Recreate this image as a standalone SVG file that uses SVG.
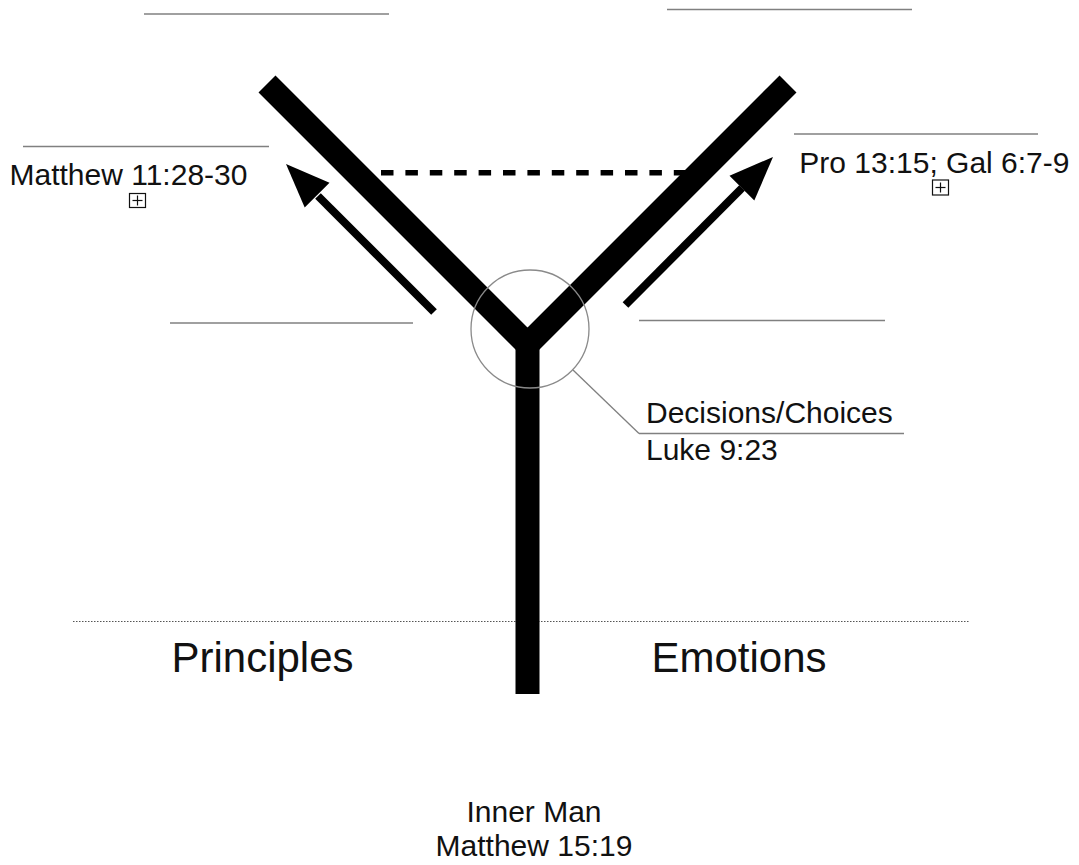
<svg xmlns="http://www.w3.org/2000/svg" width="1079" height="865" viewBox="0 0 1079 865">
  <style>
    .t { font-family: "Liberation Sans", Arial, sans-serif; font-size: 30px; fill: #111111; }
    .big { font-family: "Liberation Sans", Arial, sans-serif; font-size: 42px; fill: #111111; }
    .gl { stroke: #808080; stroke-width: 1.3; fill: none; }
    .box { fill: #ffffff; stroke: #111111; stroke-width: 1.2; }
    .plus { stroke: #111111; stroke-width: 1.2; }
  </style>
  <rect width="1079" height="865" fill="#ffffff"/>

  <g id="blank-lines">
    <line class="gl" x1="144" y1="14" x2="389" y2="14"/>
    <line class="gl" x1="667" y1="9.5" x2="912" y2="9.5"/>
    <line class="gl" x1="23" y1="146.5" x2="269" y2="146.5"/>
    <line class="gl" x1="794" y1="134" x2="1038" y2="134"/>
    <line class="gl" x1="170" y1="323" x2="413" y2="323"/>
    <line class="gl" x1="639" y1="320.5" x2="885" y2="320.5"/>
  </g>

  <g id="divider">
    <line x1="73" y1="621.5" x2="970" y2="621.5" stroke="#555" stroke-width="1.2" stroke-dasharray="1.5 1.5"/>
  </g>

  <g id="connectors">
    <line id="dashed-link" x1="381" y1="172.8" x2="690" y2="172.8" stroke="#000" stroke-width="5.5" stroke-dasharray="12.5 11.9"/>
    <g id="arrow-left">
      <line x1="434" y1="312" x2="318" y2="196" stroke="#000" stroke-width="8"/>
      <polygon points="286,164 329.5,182.7 304.7,207.5" fill="#000"/>
    </g>
    <g id="arrow-right">
      <line x1="625.5" y1="305" x2="742" y2="188" stroke="#000" stroke-width="8"/>
      <polygon points="773,157 754.3,200.5 729.5,175.7" fill="#000"/>
    </g>
    <line id="callout" class="gl" x1="573" y1="370" x2="639" y2="433.5"/>
    <line class="gl" x1="639" y1="433.5" x2="904" y2="433.5"/>
  </g>

  <g id="y-figure">
    <polyline points="267,84 527.5,344.5 788,84" fill="none" stroke="#000" stroke-width="24" stroke-linejoin="miter"/>
    <rect x="515.5" y="340" width="24" height="354" fill="#000"/>
  </g>

  <g id="choice-circle">
    <circle cx="530" cy="329" r="59" fill="none" stroke="#8a8a8a" stroke-width="1.3"/>
  </g>

  <g id="node-matthew-11">
    <text class="t" x="9.5" y="185">Matthew 11:28-30</text>
    <rect class="box" x="129.5" y="193.5" width="16" height="14"/>
    <line class="plus" x1="132.5" y1="200.5" x2="142.5" y2="200.5"/>
    <line class="plus" x1="137.5" y1="195.5" x2="137.5" y2="205.5"/>
  </g>

  <g id="node-pro">
    <text class="t" x="799.3" y="173.3">Pro 13:15; Gal 6:7-9</text>
    <rect class="box" x="932.5" y="180" width="16" height="15"/>
    <line class="plus" x1="935.5" y1="187.5" x2="945.5" y2="187.5"/>
    <line class="plus" x1="940.5" y1="182.5" x2="940.5" y2="192.5"/>
  </g>

  <g id="node-decisions">
    <text class="t" x="646" y="423.3">Decisions/Choices</text>
    <text class="t" x="646" y="460">Luke 9:23</text>
  </g>

  <g id="node-principles">
    <text class="big" x="262.5" y="672" text-anchor="middle">Principles</text>
  </g>

  <g id="node-emotions">
    <text class="big" x="739" y="672" text-anchor="middle">Emotions</text>
  </g>

  <g id="node-inner-man">
    <text class="t" x="534" y="821.7" text-anchor="middle">Inner Man</text>
    <text class="t" x="534" y="856" text-anchor="middle">Matthew 15:19</text>
  </g>
</svg>
